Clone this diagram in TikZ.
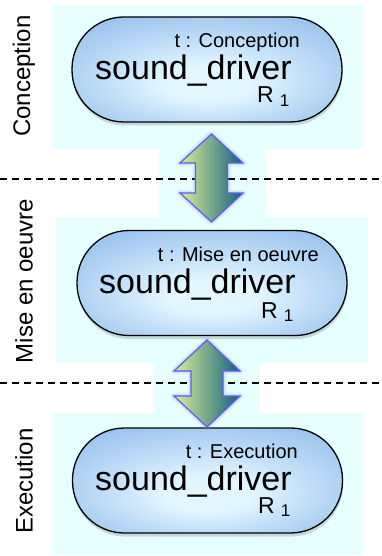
\documentclass[tikz,border=0pt]{standalone}
\usepackage{fontspec}
\setmainfont{Liberation Sans}
\usetikzlibrary{shadows}
\definecolor{bgcyan}{RGB}{232,255,255}
\definecolor{pillinner}{RGB}{226,246,255}
\definecolor{pillmid}{RGB}{184,216,246}
\definecolor{pillouter}{RGB}{138,184,232}
\definecolor{arrL}{RGB}{218,238,150}
\definecolor{arrR}{RGB}{18,96,128}
\definecolor{arrB}{RGB}{92,92,240}
\definecolor{glowc}{RGB}{150,150,255}
\pgfdeclareradialshading{pillshade}{\pgfpoint{0bp}{-8bp}}{color(0bp)=(pillinner); color(8bp)=(pillinner); color(22bp)=(pillmid); color(38bp)=(pillouter); color(50bp)=(pillouter)}
\newcommand\mydblarrow[7]{% name, cx, top, bottom, head half width, shaft half width, head length
  \foreach \gw/\go in {7/0.12,4/0.2}{
    \draw[glowc, line width=\gw pt, opacity=\go, line join=round]
      (#2,#3) -- (#2+#5,#3+#7) -- (#2+#6,#3+#7) -- (#2+#6,#4-#7) -- (#2+#5,#4-#7) -- (#2,#4)
      -- (#2-#5,#4-#7) -- (#2-#6,#4-#7) -- (#2-#6,#3+#7) -- (#2-#5,#3+#7) -- cycle;}
  \draw[arrowbody]
      (#2,#3) coordinate (#1top) -- (#2+#5,#3+#7) -- (#2+#6,#3+#7) -- (#2+#6,#4-#7) -- (#2+#5,#4-#7) -- (#2,#4) coordinate (#1bot)
      -- (#2-#5,#4-#7) -- (#2-#6,#4-#7) -- (#2-#6,#3+#7) -- (#2-#5,#3+#7) -- cycle;
}
\newcommand\rone{R\hspace{6pt}{\fontsize{17}{19}\selectfont\raisebox{-3.5pt}{1}}}
\begin{document}
\begin{tikzpicture}[x=1pt,y=-1pt,
  bgbox/.style={fill=bgcyan, draw=none},
  dashline/.style={draw=black, line width=1.1pt, dash pattern=on 7pt off 5pt},
  pill/.style={draw=black, line width=1.3pt, rounded corners=52pt, minimum width=270pt, minimum height=105pt,
    shading=pillshade, drop shadow={opacity=0.3, shadow xshift=0.5pt, shadow yshift=-3.5pt}},
  arrowbody/.style={draw=arrB, line width=1.2pt, line join=miter, left color=arrL, right color=arrR},
  ttext/.style={anchor=base east, inner sep=0pt, font=\fontsize{20}{24}\selectfont},
  ntext/.style={anchor=base west, inner sep=0pt, text depth=0pt, font=\fontsize{34}{40}\selectfont},
  rtext/.style={anchor=base west, inner sep=0pt, text height=15pt, font=\fontsize{23}{25}\selectfont},
  side/.style={rotate=90, inner sep=0pt, font=\fontsize{24}{28}\selectfont}]
\useasboundingbox (0,0) rectangle (382,556);
\fill[white] (0,0) rectangle (382,556);
% backgrounds
\fill[bgbox] (52,5) rectangle (363,149);
\fill[bgbox] (159,149) rectangle (265,217);
\fill[bgbox] (56,217) rectangle (367,363);
\fill[bgbox] (153,363) rectangle (260,413);
\fill[bgbox] (52,413) rectangle (363,555);
% separators
\coordinate (d1l) at (0,179); \coordinate (d1r) at (382,179);
\coordinate (d2l) at (0,383); \coordinate (d2r) at (382,383);
\draw[dashline] (d1l) -- (d1r);
\draw[dashline] (d2l) -- (d2r);
% side labels
\node[side] (l1) at (24,76) {Conception};
\node[side] (l2) at (24,281) {Mise en oeuvre};
\node[side] (l3) at (24,481) {Execution};
% pills
\node[pill] (p1) at (207,69.5) {};
\node[pill] (p2) at (212,283) {};
\node[pill] (p3) at (207.5,480.5) {};
% texts
\node[ttext] (t1) at (300,48) {t : Conception};
\node[ntext] (n1) at (95,80) {sound\_driver};
\node[rtext] (r1) at (257,103) {\rone};
\node[ttext] (t2) at (319,261) {t : Mise en oeuvre};
\node[ntext] (n2) at (99,293) {sound\_driver};
\node[rtext] (r2) at (261,318) {\rone};
\node[ttext] (t3) at (298,458) {t : Execution};
\node[ntext] (n3) at (95,490) {sound\_driver};
\node[rtext] (r3) at (258,513) {\rone};
% arrows between pills
\mydblarrow{a1}{211.5}{134}{222}{31.5}{16}{29}
\mydblarrow{a2}{207}{340}{427}{33}{16}{31}
\end{tikzpicture}
\end{document}
